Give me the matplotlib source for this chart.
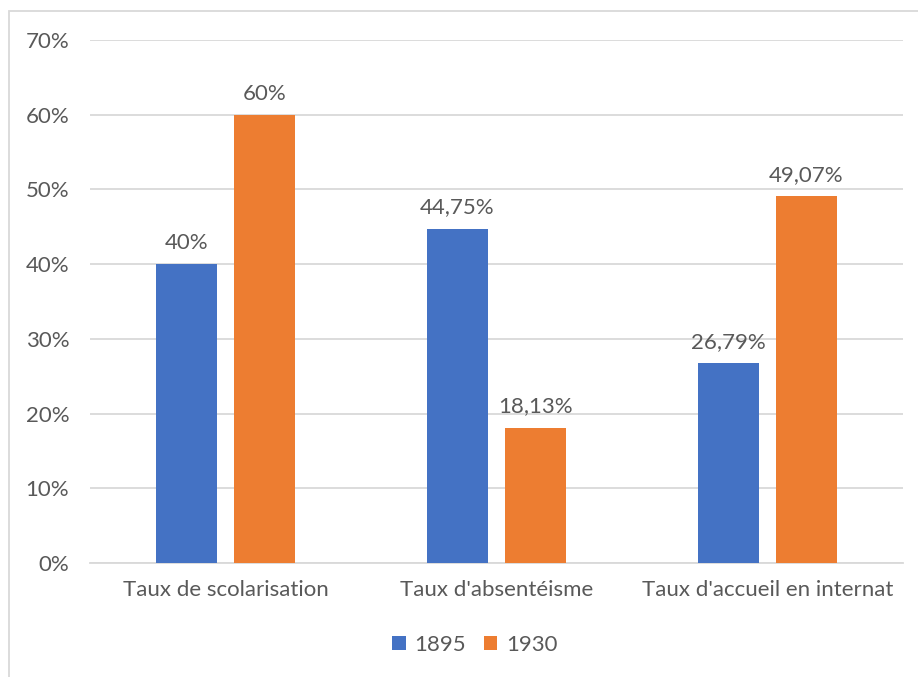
import matplotlib.pyplot as plt
from matplotlib.patches import Rectangle
from matplotlib.ticker import FuncFormatter
import numpy as np

categories = ["Taux de scolarisation", "Taux d'absentéisme", "Taux d'accueil en internat"]
series_names = ["1895", "1930"]
v1895 = [40.0, 44.75, 26.79]
v1930 = [60.0, 18.13, 49.07]
lab1895 = ["40%", "44,75%", "26,79%"]
lab1930 = ["60%", "18,13%", "49,07%"]

blue = "#4472C4"
orange = "#ED7D31"
txt = "#595959"
grid = "#D9D9D9"
fs = 16

plt.rcParams['font.family'] = ['Lato', 'DejaVu Sans']

fig = plt.figure(figsize=(9.18, 6.77), dpi=100)
fig.patches.append(Rectangle((9/918, -0.1), 1.2, 1 - 11/677 + 0.1,
                             transform=fig.transFigure, fill=False,
                             edgecolor=grid, linewidth=1.3))
ax = fig.add_axes([90/918, 1 - 563/677, 813/918, 523/677])

x = np.arange(len(categories))
w = 0.225
gap = 0.063
b1 = ax.bar(x - (w + gap)/2, v1895, w, color=blue, label=series_names[0], zorder=3)
b2 = ax.bar(x + (w + gap)/2, v1930, w, color=orange, label=series_names[1], zorder=3)

for bars, labs in ((b1, lab1895), (b2, lab1930)):
    for r, l in zip(bars, labs):
        ax.annotate(l, (r.get_x() + r.get_width()/2, r.get_height()),
                    xytext=(0, 8), textcoords='offset points',
                    ha='center', va='bottom', fontsize=fs, color=txt)

ax.set_xlim(-0.5, 2.5)
ax.set_ylim(0, 70)
ax.set_yticks(np.arange(0, 71, 10))
ax.yaxis.set_major_formatter(FuncFormatter(lambda v, p: f"{int(v)}%"))
ax.set_xticks(x)
ax.set_xticklabels(categories)
ax.tick_params(axis='both', length=0, labelsize=fs, labelcolor=txt)
ax.tick_params(axis='y', pad=15)
ax.tick_params(axis='x', pad=12)
ax.grid(axis='y', color=grid, linewidth=1.3, zorder=0)
for s in ['top', 'right', 'left']:
    ax.spines[s].set_visible(False)
ax.spines['bottom'].set_color(grid)
ax.spines['bottom'].set_linewidth(1.3)

fig.legend(loc='center', bbox_to_anchor=(475/918, 1 - 645/677), ncol=2,
           frameon=False, fontsize=fs, labelcolor=txt, handlelength=0.6,
           handleheight=0.6, handletextpad=0.4, columnspacing=0.8)

fig.savefig('out.png', dpi=100)
